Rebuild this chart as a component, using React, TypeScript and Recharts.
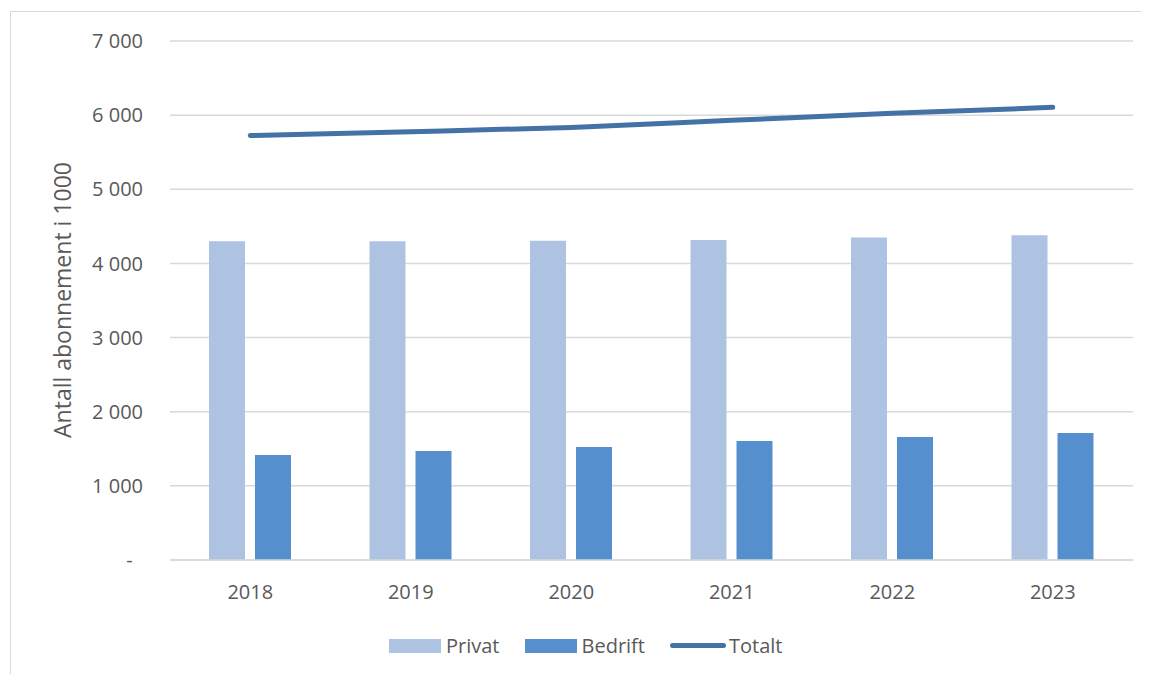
import React from 'react';
import { ComposedChart, Bar, Line, XAxis, YAxis, CartesianGrid } from 'recharts';

const years = ['2018', '2019', '2020', '2021', '2022', '2023'];
const privat = [4300, 4300, 4305, 4315, 4350, 4380];
const bedrift = [1415, 1470, 1525, 1605, 1660, 1712];
const totalt = [5725, 5775, 5835, 5930, 6025, 6105];
const yTicks = [0, 1000, 2000, 3000, 4000, 5000, 6000, 7000];

const data = years.map((year, i) => ({
  year,
  Privat: privat[i],
  Bedrift: bedrift[i],
  Totalt: totalt[i],
}));

const FONT = '"Open Sans", sans-serif';
const TEXT = '#595959';
const GRID = '#d9d9d9';
const C_PRIVAT = '#adc3e1';
const C_BEDRIFT = '#558fcd';
const C_TOTALT = '#4472a6';

const fmt = (v: number) =>
  v === 0 ? '-\u00a0\u00a0' : `${Math.floor(v / 1000)} ${String(v % 1000).padStart(3, '0')}`;

// legend drawn as html under the plot, like the excel one
const ChartLegend = () => (
  <div
    style={{
      position: 'absolute',
      left: 381,
      top: 624,
      display: 'flex',
      alignItems: 'center',
      fontFamily: FONT,
      fontSize: 20,
      color: TEXT,
      gap: 25,
    }}
  >
    <div style={{ display: 'flex', alignItems: 'center' }}>
      <span style={{ width: 52, height: 14, background: C_PRIVAT, marginRight: 5 }} />
      Privat
    </div>
    <div style={{ display: 'flex', alignItems: 'center' }}>
      <span style={{ width: 52, height: 14, background: C_BEDRIFT, marginRight: 5 }} />
      Bedrift
    </div>
    <div style={{ display: 'flex', alignItems: 'center' }}>
      <span style={{ width: 56, height: 5, borderRadius: 3, background: C_TOTALT, marginRight: 3 }} />
      Totalt
    </div>
  </div>
);

const App: React.FC = () => {
  return (
    <div style={{ position: 'relative', width: 1141, height: 666, overflow: 'hidden', background: '#fff' }}>
      <div
        style={{
          position: 'absolute',
          left: 2,
          top: 3,
          width: 1300,
          height: 800,
          border: `1.5px solid ${GRID}`,
        }}
      />
      <div
        style={{
          position: 'absolute',
          left: 54,
          top: 292,
          transform: 'translate(-50%, -50%) rotate(-90deg)',
          whiteSpace: 'nowrap',
          fontFamily: FONT,
          fontSize: 23,
          color: TEXT,
        }}
      >
        Antall abonnement i 1000
      </div>
      <ComposedChart
        width={1141}
        height={666}
        data={data}
        margin={{ top: 33, right: 16, bottom: 84, left: 62 }}
        barGap={10}
        barCategoryGap="24%"
        style={{ position: 'absolute', left: 0, top: 0 }}
      >
        <CartesianGrid vertical={false} stroke={GRID} strokeWidth={1.5} />
        <XAxis
          dataKey="year"
          height={30}
          axisLine={{ stroke: GRID, strokeWidth: 1.5 }}
          tickLine={false}
          tickSize={0}
          tickMargin={25}
          tick={{ fill: TEXT, fontSize: 20, fontFamily: FONT }}
        />
        <YAxis
          width={100}
          domain={[0, 7000]}
          ticks={yTicks}
          interval={0}
          axisLine={false}
          tickLine={false}
          tickSize={0}
          tickMargin={27}
          tickFormatter={fmt}
          tick={{ fill: TEXT, fontSize: 20, fontFamily: FONT }}
        />
        <Bar dataKey="Privat" fill={C_PRIVAT} barSize={36} isAnimationActive={false} />
        <Bar dataKey="Bedrift" fill={C_BEDRIFT} barSize={36} isAnimationActive={false} />
        <Line
          type="monotone"
          dataKey="Totalt"
          stroke={C_TOTALT}
          strokeWidth={5}
          strokeLinecap="round"
          dot={false}
          activeDot={false}
          isAnimationActive={false}
        />
      </ComposedChart>
      <ChartLegend />
    </div>
  );
};

export default App;
